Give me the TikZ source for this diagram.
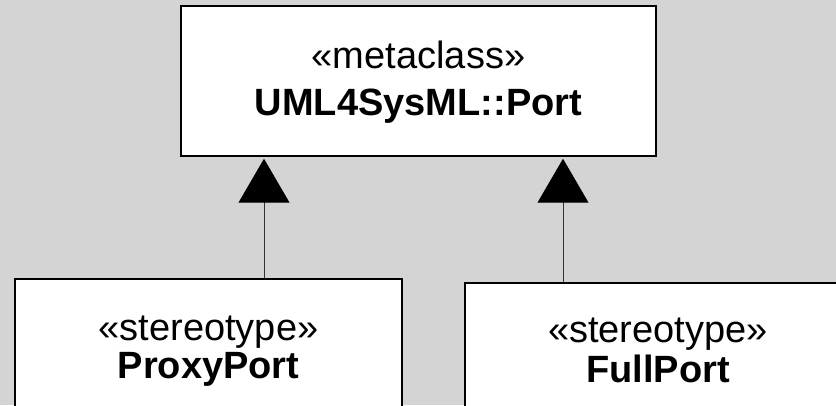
\documentclass[tikz,border=0pt]{standalone}
\usepackage{fontspec}
\setmainfont{Liberation Sans}
\usepackage{tikz}
\usetikzlibrary{arrows.meta}
\definecolor{bggray}{HTML}{D4D4D4}
\tikzstyle{metabox} = [rectangle, draw=black, line width=1.5pt, fill=white]
\tikzstyle{boxtext} = [anchor=base, inner sep=0pt, font=\fontsize{38}{40}\selectfont]
\tikzstyle{arrow} = [line width=1pt, draw=black!80, -{Triangle[length=44pt,width=51pt,color=black,fill=black]}, shorten >=2pt]

\begin{document}
\begin{tikzpicture}[x=1pt,y=1pt]

    \fill [bggray] (0,0) rectangle (836,405);
    \useasboundingbox (0,0) rectangle (836,405);

    \node (port) [metabox, minimum width=475pt, minimum height=150pt] at (418.5,324) {};
    \node (portkind) [boxtext] at (418.5,336) {«metaclass»};
    \node (portname) [boxtext, font=\fontsize{38}{40}\selectfont\bfseries] at (418.5,289) {UML4SysML::Port};

    \node (proxy) [metabox, minimum width=387pt, minimum height=160pt] at (208.5,46) {};
    \node (proxykind) [boxtext] at (208.5,65) {«stereotype»};
    \node (proxyname) [boxtext, font=\fontsize{38}{40}\selectfont\bfseries] at (208.5,27) {ProxyPort};

    \node (full) [metabox, minimum width=386pt, minimum height=160pt] at (658,42) {};
    \node (fullkind) [boxtext] at (658,63) {«stereotype»};
    \node (fullname) [boxtext, font=\fontsize{38}{40}\selectfont\bfseries] at (658,23) {FullPort};

    \draw [arrow] ([xshift=55.5pt]proxy.north) -- ([xshift=55.5pt]proxy.north |- port.south);
    \draw [arrow] ([xshift=-95pt]full.north) -- ([xshift=-95pt]full.north |- port.south);

\end{tikzpicture}
\end{document}
